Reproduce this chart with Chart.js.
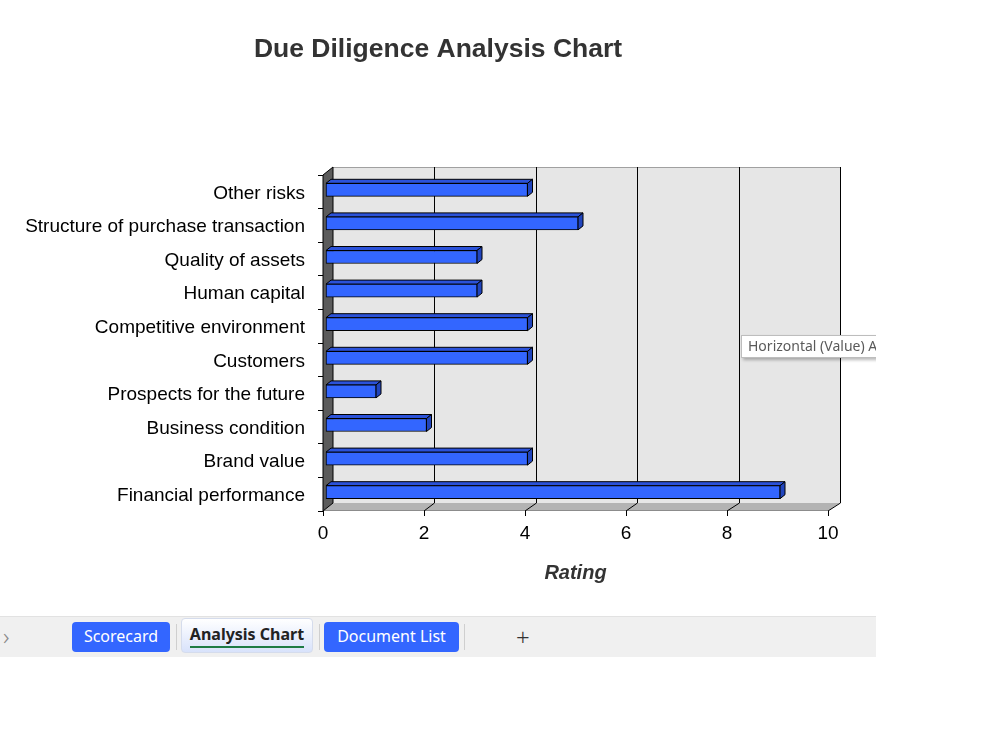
<!DOCTYPE html>
<html>
<head>
<meta charset="utf-8">
<script src="https://cdn.jsdelivr.net/npm/chart.js@4.4.1/dist/chart.umd.min.js"></script>
<style>
  html, body { margin:0; padding:0; background:#ffffff; }
  #stage { position:absolute; left:0; top:0; width:876px; height:750px; overflow:hidden; }
  #chartWrap { position:absolute; left:0; top:0; width:876px; height:610px; }
  #tip { position:absolute; left:741px; top:335px; height:21px; line-height:21px; padding:0 6px;
         background:#fff; border:1px solid #bdbdbd; box-shadow:2px 2px 3px rgba(0,0,0,0.28);
         font:14px "Noto Sans", "Open Sans", sans-serif; color:#5a5a5a; white-space:nowrap; }
  #tabs { position:absolute; left:0; top:616px; width:876px; height:40px; background:#f0f0f0;
          border-top:1px solid #e2e2e2; font-family:"Noto Sans","Open Sans",sans-serif; }
  .tab { position:absolute; box-sizing:border-box; text-align:center; font-size:16px; }
  .blue { top:5px; height:30px; line-height:29px; background:#3366ff; color:#fff; border-radius:4px; }
  .sel { top:1px; height:35px; line-height:31px; color:#222; font-weight:bold; border-radius:4px;
         background:linear-gradient(#ffffff, #d8e2fb); border:1px solid #d5dcec; }
  .sel span { display:inline-block; border-bottom:2px solid #1e7b45; line-height:24px; }
  .sep { position:absolute; top:7px; width:1px; height:26px; background:#cfcfcf; }
</style>
</head>
<body>
<div id="stage">
  <div id="chartWrap"><canvas id="c" width="876" height="610"></canvas></div>
  <div id="tip">Horizontal (Value) Axis</div>
  <div id="tabs">
    <div style="position:absolute;left:3px;top:2px;color:#8a8a8a;font-size:24px;font-weight:300;">&#8250;</div>
    <div class="tab blue" style="left:72px;width:98px;">Scorecard</div>
    <div class="sep" style="left:176px;"></div>
    <div class="tab sel" style="left:181px;width:132px;"><span>Analysis Chart</span></div>
    <div class="sep" style="left:319px;"></div>
    <div class="tab blue" style="left:324px;width:135px;">Document List</div>
    <div class="sep" style="left:464px;"></div>
    <div style="position:absolute;left:516px;top:3px;color:#333;font-size:24px;font-weight:300;">+</div>
  </div>
</div>
<script>
const categories = ['Other risks', 'Structure of purchase transaction', 'Quality of assets', 'Human capital',
  'Competitive environment', 'Customers', 'Prospects for the future', 'Business condition',
  'Brand value', 'Financial performance'];
const ratings = [4, 5, 3, 3, 4, 4, 1, 2, 4, 9];
const xTicks = [0, 2, 4, 6, 8, 10];

const DX = 10, DY = -8;      // depth of the 3D box
const BSX = 2.5, BSY = -2;   // bar front offset inside the box
const BDX = 5, BDY = -4;     // bar depth
const FONT = '"Liberation Sans", Arial, sans-serif';

function backX(chart, v) {
  const a = chart.chartArea, x = chart.scales.x;
  const px = x.getPixelForValue(v);
  return px + DX + (px - a.left) / (a.right - a.left) * 2;
}

const threeD = {
  id: 'threeD',
  beforeDatasetsDraw(chart) {
    const {ctx, chartArea: a, scales: {x}} = chart;
    const b0 = backX(chart, 0), b10 = backX(chart, 10);
    const bt = a.top + DY, bb = a.bottom + DY;
    ctx.save();
    ctx.lineWidth = 1;
    ctx.fillStyle = '#e6e6e6';
    ctx.fillRect(b0, bt, b10 - b0, bb - bt);
    ctx.strokeStyle = '#a0a0a0';
    ctx.beginPath(); ctx.moveTo(b0, bt + 0.5); ctx.lineTo(b10, bt + 0.5); ctx.stroke();
    ctx.fillStyle = '#b3b3b3';
    ctx.beginPath();
    ctx.moveTo(a.left, a.bottom); ctx.lineTo(b0, bb); ctx.lineTo(b10, bb);
    ctx.lineTo(x.getPixelForValue(10), a.bottom); ctx.closePath(); ctx.fill();
    ctx.strokeStyle = '#8c8c8c';
    ctx.beginPath(); ctx.moveTo(a.left, a.bottom - 0.5); ctx.lineTo(x.getPixelForValue(10), a.bottom - 0.5); ctx.stroke();
    ctx.strokeStyle = '#000';
    xTicks.forEach(v => {
      if (v === 0) return;
      const bx = Math.round(backX(chart, v)) + 0.5;
      ctx.beginPath();
      ctx.moveTo(bx, bt); ctx.lineTo(bx, bb); ctx.lineTo(x.getPixelForValue(v), a.bottom);
      ctx.stroke();
    });
    ctx.fillStyle = '#5b5b5b';
    ctx.beginPath();
    ctx.moveTo(a.left, a.top); ctx.lineTo(b0, bt); ctx.lineTo(b0, bb); ctx.lineTo(a.left, a.bottom);
    ctx.closePath(); ctx.fill();
    ctx.strokeStyle = '#000';
    ctx.stroke();
    ctx.restore();
  },
  beforeDatasetDraw(chart, args) {
    const {ctx} = chart;
    const meta = args.meta;
    ctx.save();
    ctx.lineWidth = 1;
    ctx.strokeStyle = '#000';
    meta.data.forEach(el => {
      const h = el.height;
      const l = Math.min(el.base, el.x) + BSX, r = Math.max(el.base, el.x) + BSX;
      const t = el.y - h / 2 + BSY, btm = el.y + h / 2 + BSY;
      ctx.fillStyle = '#2b52d9';
      ctx.beginPath();
      ctx.moveTo(l, t); ctx.lineTo(l + BDX, t + BDY); ctx.lineTo(r + BDX, t + BDY); ctx.lineTo(r, t);
      ctx.closePath(); ctx.fill(); ctx.stroke();
      ctx.fillStyle = '#2145bd';
      ctx.beginPath();
      ctx.moveTo(r, t); ctx.lineTo(r + BDX, t + BDY); ctx.lineTo(r + BDX, btm + BDY); ctx.lineTo(r, btm);
      ctx.closePath(); ctx.fill(); ctx.stroke();
    });
    ctx.restore();
    ctx.save();
    ctx.translate(BSX, BSY);
  },
  afterDatasetDraw(chart) {
    chart.ctx.restore();
  }
};

new Chart(document.getElementById('c'), {
  type: 'bar',
  data: {
    labels: categories,
    datasets: [{
      data: ratings,
      backgroundColor: '#3366ff',
      borderColor: '#000000',
      borderWidth: 1,
      borderSkipped: false,
      barThickness: 13,
      clip: false
    }]
  },
  options: {
    indexAxis: 'y',
    responsive: false,
    animation: false,
    events: [],
    layout: { padding: 0 },
    plugins: {
      legend: { display: false },
      tooltip: { enabled: false },
      title: {
        display: true,
        text: 'Due Diligence Analysis Chart',
        color: '#333333',
        font: { family: FONT, size: 26.5, weight: 'bold' },
        padding: { top: 34, bottom: 109.2 }
      }
    },
    scales: {
      x: {
        min: 0, max: 10,
        afterBuildTicks(scale) { scale.ticks = xTicks.map(v => ({ value: v })); },
        afterFit(scale) { scale.height = 99; },
        grid: { drawOnChartArea: false, drawTicks: true, tickLength: 5, color: '#000' },
        border: { display: false },
        ticks: { color: '#000', padding: 6, maxRotation: 0, font: { family: FONT, size: 19 } },
        title: {
          display: true, text: 'Rating', color: '#333333',
          font: { family: FONT, size: 20, weight: 'bold', style: 'italic' },
          padding: { top: 0, bottom: 25 }
        }
      },
      y: {
        afterFit(scale) { scale.width = 323; },
        grid: { drawOnChartArea: false, drawTicks: true, tickLength: 5, color: '#000', offset: true },
        border: { display: false },
        ticks: { color: '#000', padding: 13, labelOffset: 1.5, font: { family: FONT, size: 19 } }
      },
      yRight: {
        type: 'linear',
        position: 'right',
        display: true,
        afterFit(scale) { scale.width = 48; },
        grid: { display: false },
        border: { display: false },
        ticks: { display: false }
      }
    }
  },
  plugins: [threeD]
});
</script>
</body>
</html>
